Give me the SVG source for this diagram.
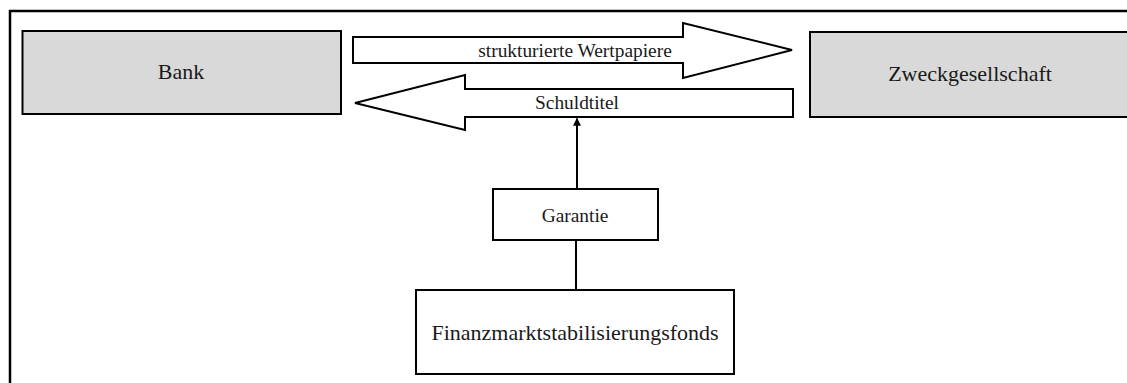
<svg xmlns="http://www.w3.org/2000/svg" width="1127" height="383" viewBox="0 0 1127 383">
  <style>
    .frame { fill: none; stroke: #000; stroke-width: 2.5; }
    .entity { fill: #d9d9d9; stroke: #000; stroke-width: 2; }
    .box { fill: #fff; stroke: #000; stroke-width: 2; }
    .flow { fill: #fff; stroke: #000; stroke-width: 2; stroke-linejoin: miter; }
    .link { fill: none; stroke: #000; stroke-width: 2; }
    text { font-family: "Liberation Serif", "Times New Roman", serif; fill: #1a1a1a; text-anchor: middle; }
    .big { font-size: 22px; }
    .small { font-size: 19.4px; }
  </style>
  <defs>
    <marker id="tip" viewBox="0 0 10 10" refX="9" refY="5" markerWidth="4" markerHeight="4" orient="auto">
      <path d="M0,0 L10,5 L0,10 z" fill="#000"/>
    </marker>
  </defs>

  <rect class="frame" x="10" y="11" width="1130" height="390"/>

  <g id="bank">
    <rect class="entity" x="22.5" y="31" width="318.5" height="83"/>
    <text class="big" x="181" y="79">Bank</text>
  </g>

  <g id="zweckgesellschaft">
    <rect class="entity" x="810" y="32" width="330" height="85"/>
    <text class="big" x="970" y="81">Zweckgesellschaft</text>
  </g>

  <g id="wertpapiere">
    <path class="flow" d="M353,37 L683,37 L683,23 L792,50 L683,78 L683,63 L353,63 Z"/>
    <text class="small" x="575" y="57">strukturierte Wertpapiere</text>
  </g>

  <g id="schuldtitel">
    <path class="flow" d="M355,103 L465,75 L465,89 L793,89 L793,117 L465,117 L465,130 Z"/>
    <text class="small" x="577" y="109">Schuldtitel</text>
  </g>

  <g id="garantie">
    <rect class="box" x="493" y="189" width="165" height="51"/>
    <text class="small" x="575" y="222">Garantie</text>
  </g>

  <g id="finanzmarktstabilisierungsfonds">
    <rect class="box" x="416" y="290" width="318" height="84"/>
    <text class="big" x="575" y="340">Finanzmarktstabilisierungsfonds</text>
  </g>

  <g id="connectors">
    <line class="link" x1="577" y1="189" x2="577" y2="118.5" marker-end="url(#tip)"/>
    <line class="link" x1="576" y1="240" x2="576" y2="290"/>
  </g>
</svg>
